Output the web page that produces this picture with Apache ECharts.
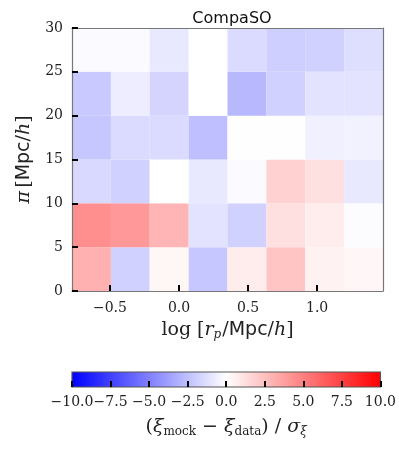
<!DOCTYPE html>
<html><head><meta charset="utf-8">
<script src="https://cdn.jsdelivr.net/npm/echarts@6/dist/echarts.min.js"></script>
<style>html,body{margin:0;padding:0;background:#fff}#c{width:399px;height:465px}</style>
</head><body><div id="c"></div>
<script>
// log10(r_p) bin edges (columns) and pi bin edges (rows)
const xEdges = [-0.775, -0.493, -0.212, 0.070, 0.351, 0.633, 0.914, 1.196, 1.477];
const yEdges = [0, 5, 10, 15, 20, 25, 30];
// (xi_mock - xi_data)/sigma, rows from pi 0-5 (bottom) up to 25-30 (top)
const row0 = [3.1, -1.8, 0.35, -2.2, 0.7, 2.3, 0.5, 0.3];
const row1 = [4.4, 4.0, 2.9, -1.1, -1.8, 1.2, 0.7, -0.1];
const row2 = [-1.5, -1.8, 0.0, -0.9, -0.2, 1.8, 1.2, -0.9];
const row3 = [-2.2, -1.4, -1.4, -2.5, 0.05, 0.05, -0.6, -0.5];
const row4 = [-2.1, -0.7, -1.7, 0.0, -2.8, -1.8, -1.1, -1.1];
const row5 = [-0.2, -0.2, -0.9, 0.0, -1.4, -1.9, -1.8, -1.3];
const rows = [row0, row1, row2, row3, row4, row5];
const xTicks = [-0.5, 0.0, 0.5, 1.0];
const yTicks = [0, 5, 10, 15, 20, 25, 30];
const cbarMin = -10, cbarMax = 10, cbarStep = 2.5;

const cells = [];
rows.forEach((r, j) => r.forEach((v, i) => cells.push([xEdges[i], xEdges[i + 1], yEdges[j], yEdges[j + 1], v])));

const fmt = v => (v < 0 ? '\u2212' : '') + Math.abs(v).toFixed(1);
const serif = 'DejaVu Serif';
const chart = echarts.init(document.getElementById('c'), null, {renderer: 'canvas'});
const tickFont = {fontFamily: serif, fontSize: 14, color: '#222'};
const frame = {onZero: false, lineStyle: {color: '#777', width: 1.2}};

chart.setOption({
  animation: false,
  title: {text: 'CompaSO', left: 227, textAlign: 'center', top: 6,
    textStyle: {fontFamily: 'DejaVu Sans', fontSize: 16, fontWeight: 'normal', color: '#111'}},
  grid: [
    {left: 72, top: 28, width: 311, height: 263},
    {left: 72, top: 372, width: 311, height: 15}
  ],
  visualMap: {show: false, min: cbarMin, max: cbarMax, dimension: 4, seriesIndex: 0,
    inRange: {color: ['#0000ff', '#ffffff', '#ff0000']}},
  xAxis: [
    {gridIndex: 0, type: 'value', min: xEdges[0], max: xEdges[xEdges.length - 1], position: 'bottom', z: 10,
      axisLine: frame,
      axisTick: {inside: true, length: 6, customValues: xTicks, lineStyle: {color: '#000', width: 2}},
      axisLabel: {customValues: xTicks, formatter: fmt, ...tickFont, margin: 10},
      splitLine: {show: false},
      name: '{s|log [}{i|r}{sub|p}{s|/}{ss|Mpc}{s|/}{i|h}{s|]}', nameLocation: 'middle', nameGap: 28,
      nameTextStyle: {rich: {
        s: {fontFamily: serif, fontSize: 19, color: '#222'},
        i: {fontFamily: serif, fontStyle: 'italic', fontSize: 19, color: '#222'},
        sub: {fontFamily: serif, fontStyle: 'italic', fontSize: 12, color: '#222', verticalAlign: 'bottom', padding: [10, 1, 0, 0]},
        ss: {fontFamily: 'DejaVu Sans', fontSize: 19, color: '#222'}
      }}},
    {gridIndex: 0, type: 'value', min: xEdges[0], max: xEdges[xEdges.length - 1], position: 'top', z: 10,
      axisLine: frame, axisTick: {show: false}, axisLabel: {show: false}, splitLine: {show: false}},
    {gridIndex: 1, type: 'value', min: cbarMin, max: cbarMax, interval: cbarStep, position: 'bottom', z: 10,
      axisLine: {show: false, onZero: false},
      axisTick: {inside: true, length: 6, lineStyle: {color: '#000', width: 2}},
      axisLabel: {formatter: fmt, ...tickFont, margin: 8},
      splitLine: {show: false},
      name: '{s|(}{i|ξ}{sub|mock}{s| − }{i|ξ}{sub|data}{s|) / }{i|σ}{subi|ξ}', nameLocation: 'middle', nameGap: 29,
      nameTextStyle: {rich: {
        s: {fontFamily: serif, fontSize: 19, color: '#222'},
        i: {fontFamily: serif, fontStyle: 'italic', fontSize: 19, color: '#222'},
        sub: {fontFamily: serif, fontSize: 12, color: '#222', verticalAlign: 'bottom', padding: [10, 0, 0, 0]},
        subi: {fontFamily: serif, fontStyle: 'italic', fontSize: 12, color: '#222', verticalAlign: 'bottom', padding: [10, 0, 0, 0]}
      }}}
  ],
  yAxis: [
    {gridIndex: 0, type: 'value', min: 0, max: 30, interval: 5, position: 'left', z: 10,
      axisLine: frame,
      axisTick: {inside: true, length: 6, lineStyle: {color: '#000', width: 2}},
      axisLabel: {...tickFont, margin: 9},
      splitLine: {show: false},
      name: '{i|π} {s|[}{ss|Mpc}{s|/}{i|h}{s|]}', nameLocation: 'middle', nameGap: 38, nameRotate: 90,
      nameTextStyle: {rich: {
        s: {fontFamily: serif, fontSize: 19, color: '#222'},
        i: {fontFamily: serif, fontStyle: 'italic', fontSize: 19, color: '#222'},
        ss: {fontFamily: 'DejaVu Sans', fontSize: 19, color: '#222'}
      }}},
    {gridIndex: 0, type: 'value', min: 0, max: 30, position: 'right', z: 10,
      axisLine: {show: true, ...frame}, axisTick: {show: false}, axisLabel: {show: false}, splitLine: {show: false}},
    {gridIndex: 1, type: 'value', min: 0, max: 1, show: false}
  ],
  series: [
    {type: 'custom', xAxisIndex: 0, yAxisIndex: 0, data: cells, z: 1,
      renderItem: (params, api) => {
        const p0 = api.coord([api.value(0), api.value(3)]);
        const p1 = api.coord([api.value(1), api.value(2)]);
        return {type: 'rect', shape: {x: p0[0], y: p0[1], width: p1[0] - p0[0], height: p1[1] - p0[1]},
          style: {fill: api.visual('color'), stroke: null}};
      }},
    {type: 'custom', xAxisIndex: 2, yAxisIndex: 2, data: [[cbarMin, cbarMax]], z: 1,
      renderItem: (params, api) => {
        const p0 = api.coord([api.value(0), 1]);
        const p1 = api.coord([api.value(1), 0]);
        return {type: 'rect', shape: {x: p0[0], y: p0[1], width: p1[0] - p0[0], height: p1[1] - p0[1]},
          style: {fill: new echarts.graphic.LinearGradient(0, 0, 1, 0, [
            {offset: 0, color: '#0000ff'}, {offset: 0.5, color: '#ffffff'}, {offset: 1, color: '#ff0000'}]),
            stroke: '#555', lineWidth: 1.2}};
      }}
  ]
});
</script></body></html>
